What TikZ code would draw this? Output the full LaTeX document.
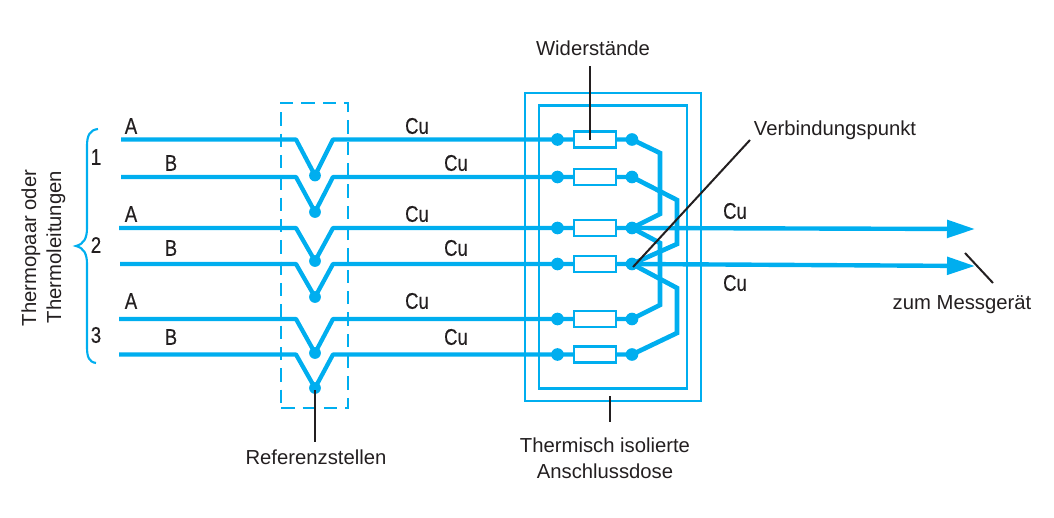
\documentclass[tikz,border=0pt]{standalone}
\usepackage{fontspec}
\setmainfont{Liberation Sans}
\newfontfamily\tagfont[FakeStretch=0.82,FakeBold=0.3]{Liberation Sans}
\usetikzlibrary{arrows.meta}
\definecolor{wireblue}{HTML}{00AEEF}
\definecolor{inkblack}{HTML}{231F20}
\tikzset{
  wire/.style={draw=wireblue,line width=3.2pt,line join=round},
  link/.style={draw=wireblue,line width=3.5pt,line join=miter},
  res/.style={draw=wireblue,line width=2pt,fill=white,minimum width=31.5pt,minimum height=12pt,inner sep=0pt,outer sep=0pt},
  dot/.style={circle,fill=wireblue,minimum size=9.5pt,inner sep=0pt,outer sep=0pt},
  vdot/.style={circle,fill=wireblue,minimum size=8.8pt,inner sep=0pt,outer sep=0pt},
  leader/.style={draw=inkblack,line width=1.5pt},
  lab/.style={text=inkblack,font=\fontsize{15.2pt}{17pt}\selectfont,inner sep=0pt},
  tagtext/.style={text=inkblack,font=\tagfont\fontsize{17pt}{19pt}\selectfont,inner sep=0pt},
  outarrow/.style={draw=wireblue,line width=3.3pt,-{Triangle[length=21pt,width=13pt,fill=wireblue]}},
}
\begin{document}
\begin{tikzpicture}[x=0.75pt,y=-0.75pt]
\useasboundingbox (0,0) rectangle (1054,518);
% enclosures
\node[draw=wireblue,line width=1.6pt,minimum width=132pt,minimum height=231pt,inner sep=0pt] (outerbox) at (613,247) {};
\node[draw=wireblue,line width=2pt,minimum width=111pt,minimum height=212pt,inner sep=0pt] (innerbox) at (613,247) {};
\node[draw=wireblue,line width=1.8pt,dash pattern=on 10pt off 6pt,minimum width=50pt,minimum height=229pt,inner sep=0pt] (refbox) at (314.5,255.5) {};
% wires
\foreach \n/\y/\sx/\d in {1/139.5/121/36,2/177/121/35,3/228/119/33,4/264/120/33,5/319/119/34,6/354.5/119/33.5}{
  \coordinate (s\n) at (\sx,\y);
  \coordinate (bl\n) at (296,\y);
  \coordinate (br\n) at (333,\y);
  \node[vdot] (v\n) at (315,\y+\d) {};
  \node[dot] (l\n) at (557.5,\y) {};
  \node[dot] (r\n) at (632,\y) {};
  \draw[wire] (s\n) -- (bl\n) -- (v\n.center) -- (br\n) -- (l\n.center) -- (r\n.center);
  \node[res] (w\n) at (595,\y) {};
}
% outputs
\coordinate (o1) at (975,229);
\coordinate (o2) at (975,266);
\draw[outarrow] (r3.center) -- (o1);
\draw[outarrow] (r4.center) -- (o2);
% links
\coordinate (a1) at (660,153); \coordinate (a2) at (660,214);
\coordinate (b1) at (677,200); \coordinate (b2) at (677,244);
\coordinate (c1) at (660,243); \coordinate (c2) at (660,305);
\coordinate (d1) at (677,288); \coordinate (d2) at (677,333);
\draw[link] (r1.center) -- (a1) -- (a2) -- (r3.center);
\draw[link] (r2.center) -- (b1) -- (b2) -- (r4.center);
\draw[link] (r3.center) -- (c1) -- (c2) -- (r5.center);
\draw[link] (r4.center) -- (d1) -- (d2) -- (r6.center);
% brace
\coordinate (bt) at (98,129); \coordinate (bm) at (76,246); \coordinate (bb) at (96,363);
\draw[draw=wireblue,line width=1.6pt] (bt) .. controls (90,130) and (87,135) .. (87,146)
  -- (87,228) .. controls (87,238) and (84,244) .. (bm)
  .. controls (84,248) and (87,254) .. (87,264)
  -- (87,347) .. controls (87,357) and (89,362) .. (bb);
% labels
\foreach \n/\t/\x/\y in {a/A/131/126,b/B/171/163,c/A/131/214,d/B/171/248,e/A/131/301,f/B/171/337,
  g/Cu/417/126,h/Cu/456/163,i/Cu/417/214,j/Cu/456/248,k/Cu/417/301,m/Cu/456/337,
  n/Cu/735/211,p/Cu/735/283,q/1/96/157,r/2/96/245,t/3/96/335}{
  \node[tagtext] (mk\n) at (\x,\y) {\t};
}
\node[lab] (widerstand) at (593,48) {Widerstände};
\node[lab] (verbindung) at (835,130) {Verbindungspunkt};
\node[lab] (messgeraet) at (962,305) {zum Messgerät};
\node[lab] (referenz) at (316,457) {Referenzstellen};
\node[lab] (thermisch) at (605,445) {Thermisch isolierte};
\node[lab] (anschluss) at (605,471) {Anschlussdose};
\node[lab,rotate=90] (thermopaar) at (31,248) {Thermopaar oder};
\node[lab,rotate=90] (thermoleit) at (56,247) {Thermoleitungen};
% leaders
\coordinate (lw1) at (590,66); \coordinate (lw2) at (590,140);
\coordinate (lv1) at (750,140); \coordinate (lv2) at (633,267);
\coordinate (lm1) at (965,253); \coordinate (lm2) at (993,283);
\coordinate (lr1) at (315,390); \coordinate (lr2) at (315,442);
\coordinate (lt1) at (610,396); \coordinate (lt2) at (610,422);
\draw[leader] (lw1) -- (lw2);
\draw[leader] (lv1) -- (lv2);
\draw[leader] (lm1) -- (lm2);
\draw[leader] (lr1) -- (lr2);
\draw[leader] (lt1) -- (lt2);
\end{tikzpicture}
\end{document}
